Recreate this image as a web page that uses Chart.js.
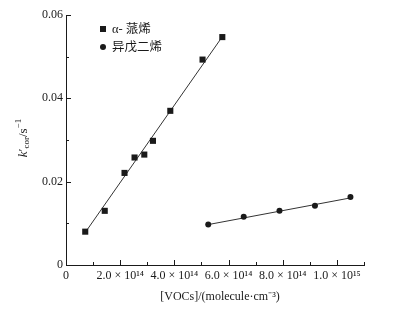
<!DOCTYPE html>
<html>
<head>
<meta charset="utf-8">
<script src="https://cdn.jsdelivr.net/npm/chart.js@4/dist/chart.umd.min.js"></script>
<style>
  html, body { margin: 0; padding: 0; background: #fff; }
  #wrap { width: 396px; height: 311px; }
</style>
</head>
<body>
<div id="wrap"><canvas id="chart"></canvas></div>
<script>
// values
const pineneX = [0.71e14, 1.43e14, 2.16e14, 2.53e14, 2.89e14, 3.21e14, 3.85e14, 5.04e14, 5.77e14];
const pineneY = [0.0080, 0.0130, 0.0221, 0.0258, 0.0265, 0.0298, 0.0370, 0.0493, 0.0547];
const isopreneX = [5.25e14, 6.56e14, 7.88e14, 9.19e14, 10.5e14];
const isopreneY = [0.0097, 0.0116, 0.0130, 0.0142, 0.0163];
// fitted lines (end points)
const pineneFitX = [0.72e14, 5.77e14];
const pineneFitY = [0.0079, 0.0548];
const isopreneFitX = [5.25e14, 10.5e14];
const isopreneFitY = [0.0097, 0.0161];
const seriesNames = ["α- 蒎烯", "异戊二烯"];

const xTickLabels = {0: "0", 2: "2.0 × 10¹⁴", 4: "4.0 × 10¹⁴", 6: "6.0 × 10¹⁴", 8: "8.0 × 10¹⁴", 10: "1.0 × 10¹⁵"};
const yTickLabels = {0: "0", 2: "0.02", 4: "0.04", 6: "0.06"};

const serif = "'Liberation Serif', 'Times New Roman', serif";
const cjk = "'Liberation Serif', 'Noto Sans CJK SC', serif";
const ink = "#1a1a1a";

const toPoints = (xs, ys) => xs.map((x, i) => ({x, y: ys[i]}));

const decorations = {
  id: "decorations",
  afterDraw(chart) {
    const {ctx, chartArea, scales} = chart;
    ctx.save();
    ctx.strokeStyle = ink;
    ctx.lineWidth = 1;
    // inward tick marks
    for (const t of scales.x.ticks) {
      const px = Math.round(scales.x.getPixelForValue(t.value)) + 0.5;
      const len = t.label ? 5 : 3;
      ctx.beginPath();
      ctx.moveTo(px, chartArea.bottom);
      ctx.lineTo(px, chartArea.bottom - len);
      ctx.stroke();
    }
    for (const t of scales.y.ticks) {
      const py = Math.round(scales.y.getPixelForValue(t.value)) + 0.5;
      const len = t.label ? 5 : 3;
      ctx.beginPath();
      ctx.moveTo(chartArea.left, py);
      ctx.lineTo(chartArea.left + len, py);
      ctx.stroke();
    }

    // legend
    ctx.fillStyle = ink;
    ctx.fillRect(100, 26, 6, 6);
    ctx.beginPath();
    ctx.arc(103, 47, 3, 0, Math.PI * 2);
    ctx.fill();
    ctx.font = "12.5px " + cjk;
    ctx.textBaseline = "middle";
    ctx.textAlign = "left";
    ctx.fillText(seriesNames[0], 112, 29.5);
    ctx.fillText(seriesNames[1], 112, 47.5);

    // x title
    ctx.font = "12px " + serif;
    ctx.textAlign = "center";
    ctx.fillText("[VOCs]/(molecule·cm⁻³)", 220, 297);

    // y title: k'cor / s^-1, rotated
    ctx.translate(24, 138);
    ctx.rotate(-Math.PI / 2);
    const parts = [
      {t: "k", f: "italic 13px " + serif, dy: 0},
      {t: "′", f: "13px " + serif, dy: 0},
      {t: "cor", f: "9px " + serif, dy: 3},
      {t: "/s", f: "13px " + serif, dy: 0},
      {t: "−1", f: "9px " + serif, dy: -5}
    ];
    let total = 0;
    for (const p of parts) { ctx.font = p.f; p.w = ctx.measureText(p.t).width; total += p.w; }
    let x = -total / 2;
    ctx.textAlign = "left";
    for (const p of parts) {
      ctx.font = p.f;
      ctx.fillText(p.t, x, p.dy);
      x += p.w;
    }
    ctx.restore();
  }
};

new Chart(document.getElementById("chart"), {
  type: "scatter",
  plugins: [decorations],
  data: {
    datasets: [
      {label: seriesNames[0], data: toPoints(pineneX, pineneY), pointStyle: "rect",
       pointRadius: 4.3, backgroundColor: ink, borderColor: ink, borderWidth: 0},
      {label: seriesNames[1], data: toPoints(isopreneX, isopreneY), pointStyle: "circle",
       pointRadius: 3, backgroundColor: ink, borderColor: ink, borderWidth: 0},
      {label: "fit1", data: toPoints(pineneFitX, pineneFitY), showLine: true, pointRadius: 0,
       borderColor: "#333", borderWidth: 1},
      {label: "fit2", data: toPoints(isopreneFitX, isopreneFitY), showLine: true, pointRadius: 0,
       borderColor: "#333", borderWidth: 1}
    ]
  },
  options: {
    responsive: true,
    maintainAspectRatio: false,
    animation: false,
    layout: {padding: {left: 0, right: 32, top: 15, bottom: 0}},
    plugins: {legend: {display: false}, tooltip: {enabled: false}},
    scales: {
      x: {
        type: "linear",
        min: 0,
        max: 1.1e15,
        afterFit: (scale) => { scale.height = 46; },
        grid: {display: false, drawTicks: false},
        border: {display: true, color: ink, width: 1},
        ticks: {
          stepSize: 1e14,
          autoSkip: false,
          maxRotation: 0,
          padding: 4,
          color: ink,
          font: {family: serif, size: 12},
          callback: (v) => xTickLabels[Math.round(v / 1e14)] || ""
        }
      },
      y: {
        min: 0,
        max: 0.06,
        afterFit: (scale) => { scale.width = 66; },
        grid: {display: false, drawTicks: false},
        border: {display: true, color: ink, width: 1},
        ticks: {
          stepSize: 0.01,
          autoSkip: false,
          padding: 3,
          color: ink,
          font: {family: serif, size: 12},
          callback: (v) => yTickLabels[Math.round(v * 100)] || ""
        }
      }
    }
  }
});
</script>
</body>
</html>
